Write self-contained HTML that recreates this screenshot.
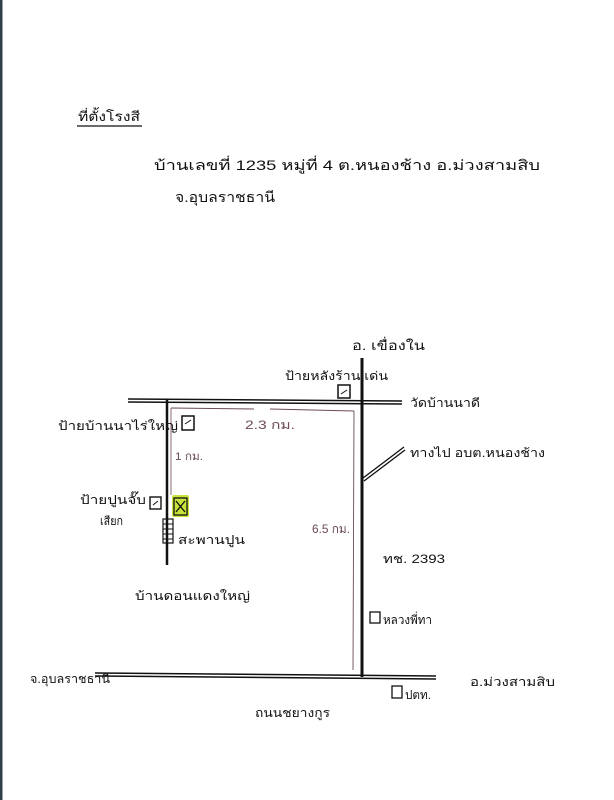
<!DOCTYPE html>
<html><head><meta charset="utf-8">
<style>
html,body{margin:0;padding:0;background:#fff;}
svg{display:block;}
text{font-family:"Liberation Sans","DejaVu Sans",sans-serif;fill:#111;}
</style></head>
<body>
<svg width="614" height="800" viewBox="0 0 614 800" xmlns="http://www.w3.org/2000/svg">
<rect x="0" y="0" width="614" height="800" fill="#fff"/>
<rect x="0" y="0" width="2.5" height="800" fill="#2f4146"/>

<text x="78" y="121" font-size="13" textLength="62" lengthAdjust="spacingAndGlyphs">ที่ตั้งโรงสี</text>
<line x1="77" y1="126" x2="142" y2="126" stroke="#111" stroke-width="1.2"/>
<text x="154" y="170" font-size="14" textLength="386" lengthAdjust="spacingAndGlyphs">บ้านเลขที่ 1235 หมู่ที่ 4   ต.หนองช้าง   อ.ม่วงสามสิบ</text>
<text x="175" y="202" font-size="14" textLength="100" lengthAdjust="spacingAndGlyphs">จ.อุบลราชธานี</text>

<line x1="128" y1="399" x2="402" y2="401" stroke="#111" stroke-width="1.5"/>
<line x1="128" y1="402" x2="402" y2="404" stroke="#111" stroke-width="1.5"/>
<line x1="362" y1="358" x2="362" y2="677" stroke="#111" stroke-width="3"/>
<line x1="167" y1="400" x2="167" y2="565" stroke="#111" stroke-width="2.5"/>
<line x1="95" y1="673" x2="436" y2="676" stroke="#111" stroke-width="1.5"/>
<line x1="95" y1="676" x2="436" y2="679" stroke="#111" stroke-width="1.5"/>
<line x1="363" y1="478" x2="404" y2="447" stroke="#111" stroke-width="1.3"/>
<line x1="364" y1="481" x2="405" y2="450" stroke="#111" stroke-width="1.3"/>

<line x1="171" y1="408" x2="254" y2="409" stroke="#6b4a55" stroke-width="0.9"/>
<line x1="270" y1="409" x2="354" y2="411" stroke="#6b4a55" stroke-width="0.9"/>
<line x1="354" y1="411" x2="353" y2="670" stroke="#6b4a55" stroke-width="0.9"/>
<line x1="171" y1="408" x2="171" y2="495" stroke="#6b4a55" stroke-width="0.8"/>

<rect x="338" y="385" width="12" height="13" fill="none" stroke="#111" stroke-width="1.5"/>
<path d="M341 394 L347 390" stroke="#111" stroke-width="1"/>
<rect x="182" y="416" width="12" height="14" fill="none" stroke="#111" stroke-width="1.5"/>
<path d="M185 424 L191 420" stroke="#111" stroke-width="1"/>
<rect x="150" y="497" width="11" height="12" fill="none" stroke="#111" stroke-width="1.4"/>
<path d="M153 505 L158 501" stroke="#111" stroke-width="1"/>
<rect x="370" y="612" width="10" height="11" fill="none" stroke="#111" stroke-width="1.3"/>
<rect x="392" y="686" width="10" height="12" fill="none" stroke="#111" stroke-width="1.3"/>

<rect x="172" y="495" width="17" height="22" fill="#c8e43a" rx="2"/>
<rect x="174" y="498" width="13" height="17" fill="none" stroke="#111" stroke-width="1.3"/>
<path d="M176 501 L185 512 M185 501 L176 512" stroke="#111" stroke-width="1.3"/>

<rect x="163" y="519" width="10" height="24" fill="none" stroke="#111" stroke-width="1.2"/>
<line x1="163" y1="524" x2="173" y2="524" stroke="#111"/>
<line x1="163" y1="529" x2="173" y2="529" stroke="#111"/>
<line x1="163" y1="534" x2="173" y2="534" stroke="#111"/>
<line x1="163" y1="539" x2="173" y2="539" stroke="#111"/>

<text x="352" y="350" font-size="13" textLength="73" lengthAdjust="spacingAndGlyphs">อ. เขื่องใน</text>
<text x="285" y="380" font-size="12" textLength="103" lengthAdjust="spacingAndGlyphs">ป้ายหลังร้าน เด่น</text>
<text x="410" y="407" font-size="12" textLength="70" lengthAdjust="spacingAndGlyphs">วัดบ้านนาดี</text>
<text x="58" y="430" font-size="12" textLength="120" lengthAdjust="spacingAndGlyphs">ป้ายบ้านนาไร่ใหญ่</text>
<text x="245" y="429" font-size="12" textLength="50" lengthAdjust="spacingAndGlyphs" style="fill:#6b4a55">2.3 กม.</text>
<text x="175" y="460" font-size="11" textLength="28" lengthAdjust="spacingAndGlyphs" style="fill:#6b4a55">1 กม.</text>
<text x="410" y="457" font-size="12" textLength="135" lengthAdjust="spacingAndGlyphs">ทางไป อบต.หนองช้าง</text>
<text x="80" y="504" font-size="12" textLength="66" lengthAdjust="spacingAndGlyphs">ป้ายปูนจั๊บ</text>
<text x="100" y="525" font-size="12" textLength="23" lengthAdjust="spacingAndGlyphs">เสียก</text>
<text x="178" y="544" font-size="12" textLength="67" lengthAdjust="spacingAndGlyphs">สะพานปูน</text>
<text x="312" y="533" font-size="12" textLength="38" lengthAdjust="spacingAndGlyphs" style="fill:#6b4a55">6.5 กม.</text>
<text x="383" y="563" font-size="12" textLength="62" lengthAdjust="spacingAndGlyphs">ทช. 2393</text>
<text x="135" y="600" font-size="12" textLength="115" lengthAdjust="spacingAndGlyphs">บ้านดอนแดงใหญ่</text>
<text x="383" y="624" font-size="12" textLength="49" lengthAdjust="spacingAndGlyphs">หลวงพี่ทา</text>
<text x="30" y="683" font-size="12" textLength="80" lengthAdjust="spacingAndGlyphs">จ.อุบลราชธานี</text>
<text x="470" y="686" font-size="12" textLength="85" lengthAdjust="spacingAndGlyphs">อ.ม่วงสามสิบ</text>
<text x="405" y="699" font-size="12" textLength="26" lengthAdjust="spacingAndGlyphs">ปตท.</text>
<text x="255" y="717" font-size="12" textLength="75" lengthAdjust="spacingAndGlyphs">ถนนชยางกูร</text>
</svg>
</body></html>
